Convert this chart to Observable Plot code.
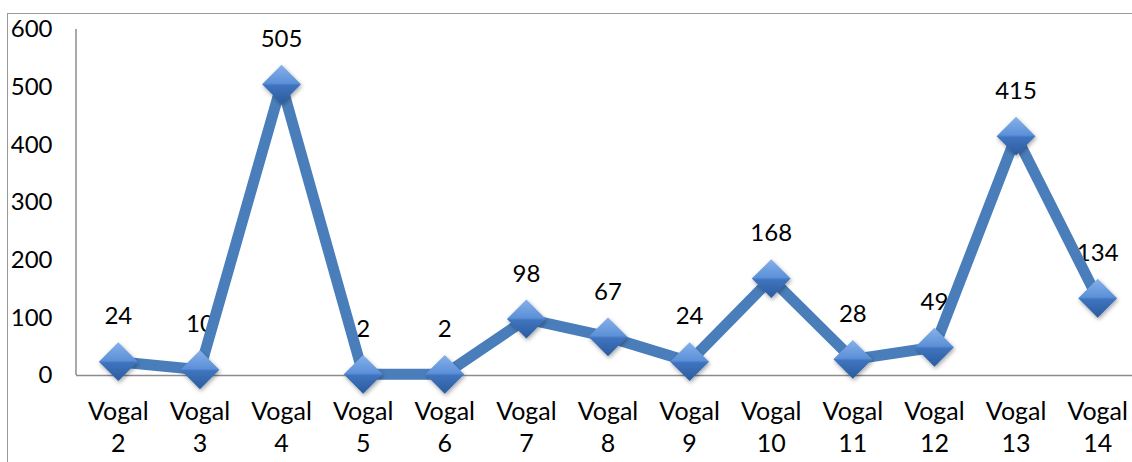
<!DOCTYPE html>
<html>
<head>
<meta charset="utf-8">
<script src="https://cdn.jsdelivr.net/npm/d3@7"></script>
<script src="https://cdn.jsdelivr.net/npm/@observablehq/plot@0.6"></script>
<style>
  html, body { margin: 0; padding: 0; background: #fff; overflow: hidden; }
  #wrap { position: relative; width: 1132px; height: 462px; }
  #box { position: absolute; left: 7px; top: 13px; width: 1200px; height: 500px;
         border-left: 1px solid #9a9a9a; border-top: 1px solid #9a9a9a; box-sizing: border-box; }
  #chart { position: absolute; left: 0; top: 0; }
</style>
</head>
<body>
<div id="wrap"><div id="box"></div><div id="chart"></div></div>
<script>
// Counts per vowel group
const categories = ["Vogal 2", "Vogal 3", "Vogal 4", "Vogal 5", "Vogal 6", "Vogal 7", "Vogal 8",
                    "Vogal 9", "Vogal 10", "Vogal 11", "Vogal 12", "Vogal 13", "Vogal 14"];
const values = [24, 10, 505, 2, 2, 98, 67, 24, 168, 28, 49, 415, 134];
const yTicks = [0, 100, 200, 300, 400, 500, 600];

const data = categories.map((c, i) => ({category: c, value: values[i]}));

const blue = "#4a7ebb";
const font = "Lato, 'Open Sans', sans-serif";

const chart = Plot.plot({
  width: 1132,
  height: 462,
  marginLeft: 76,
  marginTop: 29,
  marginBottom: 87,
  marginRight: 0,
  style: {fontFamily: font, color: "#000", background: "transparent", overflow: "visible"},
  x: {domain: categories, type: "band", range: [77, 1138], padding: 0, round: false, label: null},
  y: {domain: [0, 600], range: [375, 29], label: null},
  marks: [
    Plot.axisY({ticks: yTicks, tickSize: 0, tickPadding: 24, fontSize: 24, label: null, tickFormat: d => String(d)}),
    Plot.axisX({tickSize: 0, tickPadding: 22, fontSize: 25, lineHeight: 1.27, label: null,
                tickFormat: d => d.replace(" ", "\n")}),
    // value labels sit beneath the line
    Plot.text(data, {x: "category", y: "value", text: d => String(d.value),
      dy: -45, fontSize: 24, lineAnchor: "middle", fill: "#000"}),
    Plot.ruleY([0], {stroke: "#8c8c8c", strokeWidth: 1.5}),
    Plot.line(data, {x: "category", y: "value", stroke: blue, strokeWidth: 11, strokeLinejoin: "miter", strokeMiterlimit: 2}),
    Plot.dot(data, {x: "category", y: "value", symbol: "diamond2", r: 17.5,
      fill: "url(#diamondFill)", stroke: "none"})
  ]
});

// gradient + shadow for the diamond markers, and the vertical value axis line
const svg = d3.select(chart);
const defs = svg.insert("defs", ":first-child");
const grad = defs.append("linearGradient").attr("id", "diamondFill")
  .attr("x1", 0).attr("y1", 0).attr("x2", 0).attr("y2", 1);
[["0%", "#86b1ea"], ["47%", "#5c90d8"], ["53%", "#3f74be"], ["100%", "#2b5b9e"]]
  .forEach(([o, c]) => grad.append("stop").attr("offset", o).attr("stop-color", c));
const f = defs.append("filter").attr("id", "diamondShadow")
  .attr("x", "-50%").attr("y", "-50%").attr("width", "200%").attr("height", "200%");
f.append("feDropShadow").attr("dx", 1).attr("dy", 2).attr("stdDeviation", 2)
  .attr("flood-color", "#000").attr("flood-opacity", 0.35);

const y = chart.scale("y");
svg.append("line")
  .attr("x1", 76).attr("x2", 76)
  .attr("y1", y.apply(600)).attr("y2", y.apply(0))
  .attr("stroke", "#8c8c8c").attr("stroke-width", 1.5);

// shadow on each diamond marker
svg.selectAll("g[aria-label='dot'] path").attr("filter", "url(#diamondShadow)");

// keep the axis line and labels under the series
const seriesNodes = svg.selectAll("g[aria-label='line'], g[aria-label='dot']").nodes();
seriesNodes.forEach(n => chart.appendChild(n));

document.getElementById("chart").appendChild(chart);
</script>
</body>
</html>
